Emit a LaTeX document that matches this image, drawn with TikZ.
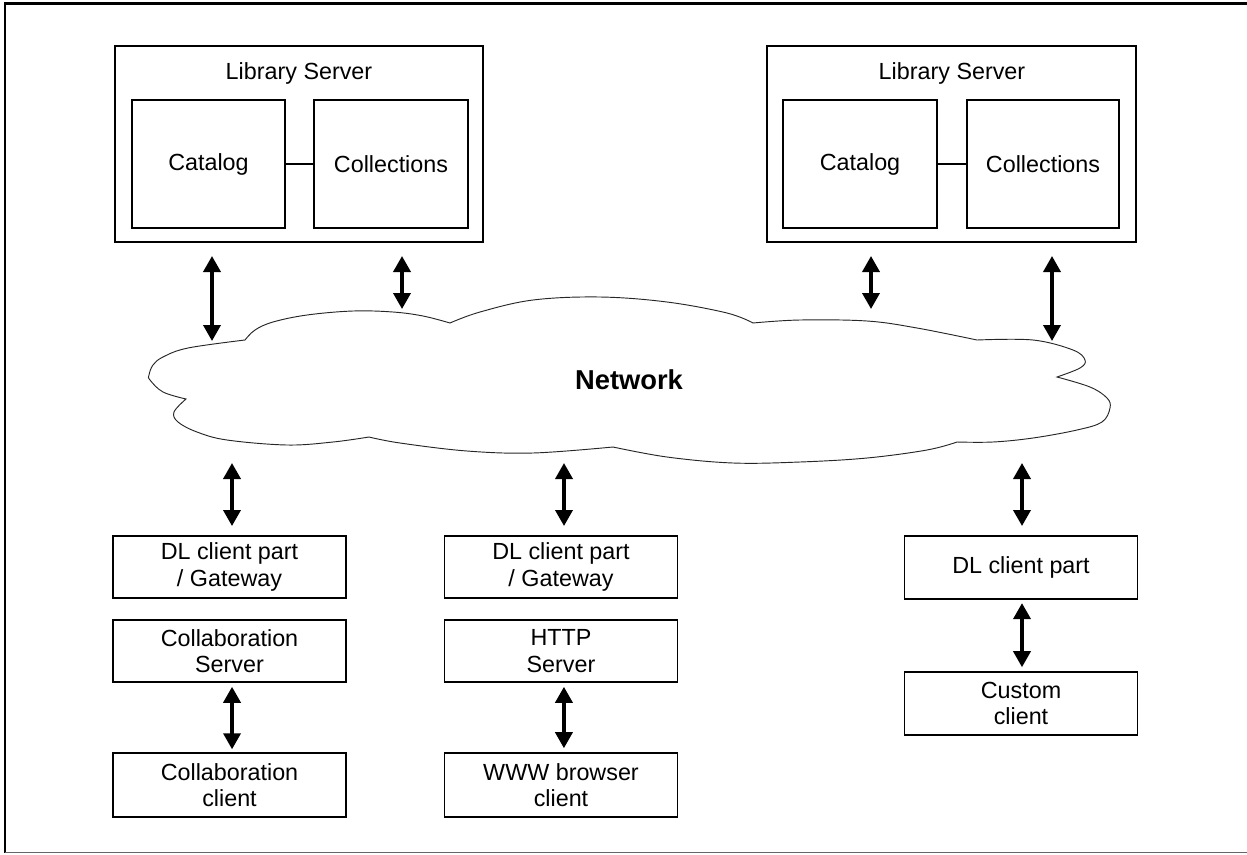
\documentclass[tikz,border=0pt]{standalone}
\usepackage{fontspec}
\setmainfont{Liberation Sans}
\usetikzlibrary{arrows.meta}
\tikzset{
  box/.style={draw, line width=1.2pt, inner sep=0pt, align=center, font=\fontsize{17.5}{20}\selectfont},
  lowbox/.style={box, minimum width=174.75pt, minimum height=47pt},
  dar/.style={line width=2.6pt, {Triangle[width=12.8pt,length=12pt]}-{Triangle[width=12.8pt,length=12pt]}},
  cloudline/.style={line width=0.7pt, draw=black!85},
  lbl/.style={inner sep=0pt, font=\fontsize{17.5}{20}\selectfont}
}
\begin{document}
\begin{tikzpicture}[x=0.75pt,y=-0.75pt]
\useasboundingbox (0,0) rectangle (1247,854);
% outer frame
\draw[line width=1.7pt] (1260,3.5) -- (5,3.5) -- (5,853);
\draw[line width=1pt, black!60] (5,852.5) -- (1260,852.5);

% left library server
\node[box, minimum width=276pt, minimum height=147pt] (ls1) at (299,144) {};
\node[lbl] (ls1t) at (299,73) {Library Server};
\node[box, minimum width=114.75pt, minimum height=96pt] (cat1) at (208.5,164) {Catalog};
\node[box, minimum width=115.5pt, minimum height=96pt] (col1) at (391,164) {Collections};
\draw[line width=0.9pt] (cat1) -- (col1);

% right library server
\node[box, minimum width=276.75pt, minimum height=147pt] (ls2) at (951.5,144) {};
\node[lbl] (ls2t) at (952,73) {Library Server};
\node[box, minimum width=115.5pt, minimum height=96pt] (cat2) at (860,164) {Catalog};
\node[box, minimum width=114pt, minimum height=96pt] (col2) at (1043,164) {Collections};
\draw[line width=0.9pt] (cat2) -- (col2);

% cloud
\draw[cloudline]
 plot[smooth,tension=0.6] coordinates {(245,340)(255,330)(273,322)(307,315)(353,311)(393,312)(423,316)(450,323)}
 -- plot[smooth,tension=0.6] coordinates {(450,323)(480,312)(533,300)(600,297)(667,302)(727,313)(753,323)}
 -- plot[smooth,tension=0.6] coordinates {(753,323)(800,320)(867,321)(917,328)(977,340)}
 -- plot[smooth,tension=0.6] coordinates {(977,340)(1033,340)(1073,350)(1085,360)(1080,368)(1057,377)}
 -- plot[smooth,tension=0.6] coordinates {(1057,377)(1090,387)(1107,398)(1110,408)(1102,422)(1077,430)(1033,438)(993,442)(957,442)}
 -- plot[smooth,tension=0.6] coordinates {(957,442)(927,450)(867,458)(800,462)(733,463)(667,457)(613,447)}
 -- plot[smooth,tension=0.6] coordinates {(613,447)(533,453)(467,451)(400,443)(369,437)}
 -- plot[smooth,tension=0.6] coordinates {(369,437)(333,442)(287,445)(227,440)(197,432)(178,422)(174,412)(186,399)}
 -- plot[smooth,tension=0.6] coordinates {(186,399)(163,392)(150,380)(149,375)(153,365)(163,357)(188,348)(245,340)}
 -- cycle;
\node[inner sep=0pt, font=\bfseries\fontsize{20.5}{24}\selectfont] (net) at (629,380) {Network};

% lower boxes
\node[lowbox, minimum height=46.5pt] (dl1) at (229.5,567) {DL client part\\/ Gateway};
\node[lowbox, minimum height=46.5pt] (cs) at (229.5,651) {Collaboration\\Server};
\node[lowbox, minimum height=48pt] (cc) at (229.5,785) {Collaboration\\client};

\node[lowbox, minimum height=46.5pt] (dl2) at (561,567) {DL client part\\/ Gateway};
\node[lowbox, minimum height=46.5pt] (hs) at (561,651) {HTTP\\Server};
\node[lowbox, minimum height=48pt] (wb) at (561,785) {WWW browser\\client};

\node[lowbox, minimum height=47.25pt] (dl3) at (1021,567.5) {DL client part};
\node[lowbox, minimum height=47.25pt] (cu) at (1021,703.5) {Custom\\client};

% arrow end points
\coordinate (a1s) at (212,256); \coordinate (a1e) at (212,341);
\coordinate (a2s) at (402,256); \coordinate (a2e) at (402,309);
\coordinate (a3s) at (871,256); \coordinate (a3e) at (871,309);
\coordinate (a4s) at (1052,256); \coordinate (a4e) at (1052,341);
\coordinate (b1) at (232,463); \coordinate (b2) at (564,463); \coordinate (b3) at (1022,463);

\draw[dar] (a1s) -- (a1e);
\draw[dar] (a2s) -- (a2e);
\draw[dar] (a3s) -- (a3e);
\draw[dar] (a4s) -- (a4e);

\draw[dar] (b1) -- (b1 |- 0,526);
\draw[dar] (b2) -- (b2 |- 0,526);
\draw[dar] (b3) -- (b3 |- 0,526);

\draw[dar, shorten <=3pt, shorten >=2.2pt] ([xshift=1.9pt]cs.south) -- ([xshift=1.9pt]cc.north);
\draw[dar, shorten <=3pt, shorten >=3pt] ([xshift=2.2pt]hs.south) -- ([xshift=2.2pt]wb.north);
\draw[dar, shorten <=2.5pt, shorten >=3pt] ([xshift=0.75pt]dl3.south) -- ([xshift=0.75pt]cu.north);
\end{tikzpicture}
\end{document}
